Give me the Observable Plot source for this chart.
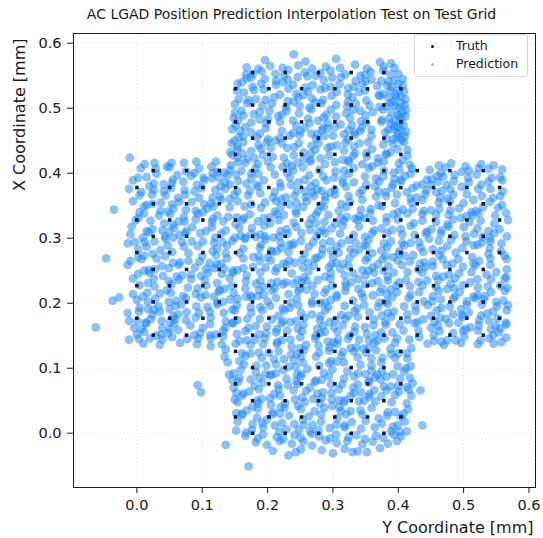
<!DOCTYPE html>
<html><head><meta charset="utf-8">
<script src="https://cdn.jsdelivr.net/npm/d3@7"></script>
<script src="https://cdn.jsdelivr.net/npm/@observablehq/plot@0.6"></script>
<style>
html,body{margin:0;padding:0;background:#fff;}
#wrap{position:relative;width:543px;height:538px;font-family:"DejaVu Sans",sans-serif;}
.legend{position:absolute;left:414px;top:34px;width:114px;height:43px;box-sizing:border-box;border:1px solid #d6d6d6;border-radius:3px;background:rgba(255,255,255,0.85);font-size:12.5px;color:#1a1a1a;}
.legend .row{position:absolute;left:0;width:100%;height:16px;line-height:16px;}
.legend .mk{position:absolute;left:16px;top:6.5px;width:3px;height:3px;border-radius:1.5px;}
.legend .lbl{position:absolute;left:41px;top:0;white-space:nowrap;}
</style></head>
<body><div id="wrap"></div>
<script>
const title = "AC LGAD Position Prediction Interpolation Test on Test Grid";
const xLabel = "Y Coordinate [mm]";
const yLabel = "X Coordinate [mm]";
const seriesNames = ["Truth", "Prediction"];
const seriesColors = ["#0b1a3f", "#1e88f5"];
const xTicks = [0.0, 0.1, 0.2, 0.3, 0.4, 0.5, 0.6];
const yTicks = [0.0, 0.1, 0.2, 0.3, 0.4, 0.5, 0.6];

// Truth grid: X coordinate of each row and the Y coordinates of the points in that row
const truthRowX = [0.000,0.025,0.050,0.076,0.101,0.126,0.151,0.177,0.202,0.227,0.252,0.278,0.303,0.328,0.353,0.378,0.404,0.429,0.454,0.479,0.505,0.530,0.555];
const truthRowY = [
  [0.177,0.227,0.278,0.328,0.378],
  [0.151,0.202,0.252,0.303,0.353,0.404],
  [0.177,0.227,0.278,0.328,0.378],
  [0.151,0.202,0.252,0.303,0.353,0.404],
  [0.177,0.227,0.278,0.328,0.378],
  [0.151,0.202,0.252,0.303,0.353,0.404],
  [0.025,0.076,0.126,0.177,0.227,0.278,0.328,0.378,0.429,0.479,0.530],
  [0.000,0.050,0.101,0.151,0.202,0.252,0.303,0.353,0.404,0.454,0.505,0.555],
  [0.025,0.076,0.126,0.177,0.227,0.278,0.328,0.378,0.429,0.479,0.530],
  [0.000,0.050,0.101,0.151,0.202,0.252,0.303,0.353,0.404,0.454,0.505,0.555],
  [0.025,0.076,0.126,0.177,0.227,0.278,0.328,0.378,0.429,0.479,0.530],
  [0.000,0.050,0.101,0.151,0.202,0.252,0.303,0.353,0.404,0.454,0.505,0.555],
  [0.025,0.076,0.126,0.177,0.227,0.278,0.328,0.378,0.429,0.479,0.530],
  [0.000,0.050,0.101,0.151,0.202,0.252,0.303,0.353,0.404,0.454,0.505,0.555],
  [0.025,0.076,0.126,0.177,0.227,0.278,0.328,0.378,0.429,0.479,0.530],
  [0.000,0.050,0.101,0.151,0.202,0.252,0.303,0.353,0.404,0.454,0.505,0.555],
  [0.025,0.076,0.126,0.177,0.227,0.278,0.328,0.378,0.429,0.479,0.530],
  [0.151,0.202,0.252,0.303,0.353,0.404],
  [0.177,0.227,0.278,0.328,0.378],
  [0.151,0.202,0.252,0.303,0.353,0.404],
  [0.177,0.227,0.278,0.328,0.378],
  [0.151,0.202,0.252,0.303,0.353,0.404],
  [0.177,0.227,0.278,0.328,0.378]
];

// Predicted positions, "Y,X" in micrometres (thousandths of a mm)
const predictionPairs = `
208,-27 243,-29 251,-25 300,-31 318,-24 338,-28 352,-29 372,-23 171,-51 136,-18 232,-34 330,-29 283,-26
182,-14 199,-18 219,-12 237,-16 255,-13 268,-19 289,-11 306,-15 322,-12 345,-17 361,-13 384,-16 398,-12
166,-4 185,-8 193,-2 214,-6 224,-9 241,-3 251,-7 268,-1 279,-5 296,-8 305,-2 324,-6 336,-3 349,-9 366,-4 377,-7 393,-2 404,-5
152,4 167,1 176,5 193,9 218,2 229,6 248,5 265,3 278,5 295,8 318,9 343,7 364,9 389,3 402,2 413,3
154,18 177,14 192,16 211,12 222,16 241,14 256,13 269,13 282,18 305,13 318,12 329,17 350,19 375,15 392,10 399,12 410,18
161,28 184,24 199,21 208,29 233,27 254,21 263,26 282,29 307,23 320,29 345,29 370,23 383,27 404,25
152,31 161,30 168,35 185,38 208,32 219,30 226,39 251,37 272,34 287,39 312,34 327,34 342,35 359,39 384,32 395,33 408,30 415,37
154,48 177,41 186,46 205,44 220,40 227,46 246,42 257,48 280,46 299,42 310,40 317,48 340,49 365,49 390,48 413,46
150,52 161,58 184,50 191,53 204,54 219,58 242,52 253,55 270,53 283,54 298,52 309,51 318,51 327,57 348,50 355,56 374,57 395,59 420,58
152,62 163,61 172,64 187,68 210,60 217,68 240,66 259,65 276,61 285,63 298,62 309,68 332,62 343,63 356,60 363,66 382,66 401,64 416,67
148,70 155,79 180,73 193,78 216,74 231,74 246,76 265,70 272,79 297,75 314,75 331,70 338,75 355,78 378,72 389,72 400,73 413,71 422,77
146,82 157,85 174,83 187,85 204,89 229,84 244,80 251,88 274,81 283,82 294,88 317,84 332,88 355,81 364,86 373,83 382,87 403,84 418,85
141,90 148,92 159,98 182,94 197,91 206,90 213,92 224,97 245,90 252,91 261,99 286,93 299,98 322,95 339,92 350,91 359,96 368,90 375,95 392,91 409,95
139,109 164,106 183,104 198,104 213,106 232,102 243,102 254,109 279,104 294,108 317,109 342,105 359,104 374,109 399,103 412,100 419,103
134,118 157,111 166,119 191,116 210,114 225,114 240,112 251,118 274,118 297,111 306,110 313,119 338,117 359,115 376,116 395,116 414,115
136,129 161,123 174,123 187,124 202,124 217,126 236,121 245,122 256,128 279,124 294,127 315,125 332,126 351,124 366,128 389,122 400,123 413,123
130,137 151,138 174,136 193,137 214,138 237,133 250,131 259,136 278,135 295,132 306,137 327,131 336,132 347,130 354,131 363,139 388,130 395,139 420,131 10,138 35,136 66,139 92,137 113,134 445,138 470,136 496,139 522,137 546,138
-63,163 -37,204 -27,209 -35,344 -47,269 93,74 98,63 434,66 437,12
-12,144 3,145 20,146 39,144 54,148 77,145 94,146 113,146 132,149 157,142 168,143 181,144 196,146 215,140 222,143 235,144 250,148 273,146 292,141 301,140 308,144 323,145 340,144 355,143 368,142 379,146 398,146 417,144 432,148 455,142 466,141 475,143 488,143 501,149 526,143 539,146 558,140 565,147
0,152 11,156 30,150 37,152 48,154 63,159 88,151 97,154 112,151 121,152 132,157 153,153 166,157 187,152 198,154 213,155 230,158 253,157 274,150 281,154 288,156 307,156 326,150 333,156 352,153 365,151 374,155 391,155 408,158 431,158 454,151 463,157 484,154 499,158 522,158 545,151 554,155
-4,162 7,160 14,169 39,162 50,160 57,169 82,166 101,162 112,168 135,162 146,169 171,162 182,165 199,164 214,160 221,169 246,161 255,167 276,161 285,165 302,163 315,166 334,164 349,163 362,166 381,167 402,168 425,169 450,162 461,165 478,169 503,160 510,163 523,166 542,160 549,165 556,161 565,167
-12,173 1,173 14,170 21,175 38,173 51,170 58,175 75,174 90,178 113,178 136,172 147,170 154,174 169,176 188,176 207,175 224,172 235,171 244,173 257,178 280,174 295,171 304,174 319,176 338,179 363,175 380,171 389,179 414,174 429,171 438,175 455,171 464,177 473,176 492,170 499,179 524,174 539,173 552,177 565,170
-14,185 3,187 24,182 35,187 56,180 63,183 76,186 95,185 112,187 133,185 150,189 175,185 192,189 217,181 226,189 251,185 268,183 281,180 288,189 313,182 324,181 333,188 356,186 375,181 384,185 393,187 414,183 427,188 450,181 459,189 484,183 497,182 508,186 527,181 536,184 545,187 566,189
4,193 17,191 26,190 33,195 50,191 59,196 68,198 91,195 108,194 123,198 146,190 153,197 174,194 189,194 204,196 223,192 234,193 247,197 268,199 293,194 318,196 337,192 348,197 369,194 384,199 409,195 426,196 445,197 466,193 479,195 496,191 505,198 528,198 551,195 568,197
0,205 17,202 28,207 49,202 60,204 75,208 98,209 123,201 132,202 143,206 154,207 175,209 200,203 213,208 236,201 245,208 268,203 281,200 288,201 297,205 306,209 331,204 346,209 371,201 380,202 391,209 416,208 439,203 452,203 465,206 484,207 505,203 518,208 531,206 550,202 561,204
-6,214 9,210 16,216 35,215 52,216 71,211 90,214 105,213 118,210 125,218 148,216 167,210 174,212 185,211 194,213 207,219 232,214 247,219 272,214 287,216 306,213 319,219 344,215 361,212 372,217 383,214 398,217 419,213 432,217 453,211 462,219 487,210 494,217 515,210 522,212 533,211 542,217 563,219
4,228 27,226 46,220 53,229 78,224 93,223 106,227 127,220 134,222 145,227 166,223 187,220 194,225 211,223 224,229 249,222 260,221 269,227 290,221 299,227 320,226 339,222 350,229 375,223 388,221 397,227 418,226 437,227 458,225 475,222 486,223 499,228 522,224 537,226 556,227 567,224
-6,238 17,231 26,238 49,234 64,236 83,237 104,236 123,231 142,239 167,234 182,230 189,235 206,231 215,233 228,232 239,230 246,236 253,233 260,235 277,236 296,238 319,231 328,232 339,237 360,231 369,234 384,235 401,232 412,236 431,233 444,235 461,236 480,230 487,238 510,232 521,237 542,237 563,238
2,245 19,247 40,242 61,241 70,243 83,244 98,242 109,247 130,245 147,247 168,243 189,248 212,249 237,246 256,240 263,249 288,241 297,247 318,243 331,246 350,243 363,247 384,241 393,247 414,248 437,247 458,242 469,241 478,244 493,246 512,248 535,244 550,248 565,240
-14,259 11,250 18,251 27,252 38,257 49,254 64,259 89,255 106,253 119,254 134,253 147,250 154,251 163,254 178,256 197,255 214,254 229,259 254,255 271,258 294,255 311,253 324,257 345,251 354,250 361,255 378,250 385,257 406,259 431,252 442,256 453,257 474,259 499,256 518,258 541,259 566,252
-10,265 7,268 30,269 55,262 66,263 79,265 96,264 111,262 122,260 129,261 138,269 163,269 188,265 205,266 224,261 233,266 242,262 253,267 262,262 273,269 298,260 305,262 316,261 325,269 350,266 369,260 376,268 399,266 418,264 433,260 440,263 453,264 468,268 483,261 492,268 515,261 524,265 541,269 566,268
2,271 11,273 24,276 43,272 54,279 79,277 100,272 121,274 136,277 157,277 178,271 187,273 200,270 207,279 232,279 257,276 276,270 283,275 300,271 309,278 332,277 353,270 360,277 381,272 392,271 401,276 410,273 423,274 438,279 463,274 488,278 513,271 538,276 563,273
2,283 15,287 36,282 47,289 72,287 93,288 116,280 123,284 138,289 163,284 188,285 205,281 214,280 221,285 238,289 263,287 284,283 297,281 306,287 327,283 340,282 351,288 374,281 383,286 402,280 409,289 434,286 453,283 466,281 475,288 498,285 515,289 540,285 557,280
-14,292 -3,294 12,294 27,295 44,299 69,294 84,295 101,295 118,293 131,294 146,296 165,299 190,290 197,298 220,293 233,290 240,292 251,296 270,294 285,292 296,295 313,292 324,297 335,293 348,290 355,298 378,292 389,295 406,293 419,293 432,294 447,299 462,296 481,298 504,295 521,290 528,293 541,295 558,292
-10,306 9,301 18,309 43,303 56,301 65,305 74,308 97,308 120,301 129,307 150,301 159,304 166,301 175,307 182,302 189,306 196,303 209,301 218,303 231,307 252,308 275,303 288,308 311,307 332,305 349,302 360,308 383,308 406,306 425,305 442,308 465,307 486,305 503,303 516,307 529,302 540,300 547,308 566,303
-8,318 15,311 24,314 39,312 50,310 57,316 76,311 85,317 106,311 115,317 136,312 157,316 176,316 195,319 220,311 229,314 244,317 265,313 278,310 285,313 298,315 315,319 340,318 363,312 374,315 391,313 404,314 419,319 444,310 451,314 466,312 477,318 500,317 521,315 538,311 555,314
-2,328 21,327 42,323 55,321 64,326 73,325 90,329 115,325 132,326 151,322 162,328 185,326 204,323 217,328 240,324 263,322 274,323 287,325 304,323 317,327 338,328 361,327 382,325 399,329 424,323 437,327 458,325 475,321 484,329 509,325 526,327 547,322 568,328
2,331 11,338 34,335 51,337 72,333 93,338 116,330 123,335 140,333 153,332 164,331 173,337 194,331 203,332 214,337 225,336 244,338 267,330 274,336 293,336 312,331 321,333 334,330 341,334 348,331 357,339 382,332 393,337 414,338 437,337 458,336 477,336 496,331 505,334 514,335 523,339 548,335 565,339
4,340 11,349 36,342 47,341 56,346 75,344 90,342 101,340 108,346 117,349 142,348 165,349 190,347 211,341 220,348 243,342 254,348 277,341 286,348 309,342 320,348 343,344 358,345 375,349 400,340 407,344 422,345 439,342 450,343 463,345 480,343 493,346 512,340 519,342 530,348 553,347
-6,357 15,351 24,353 37,355 54,352 65,356 84,356 103,352 114,354 129,359 154,357 175,352 196,355 213,357 234,352 245,354 260,357 281,350 288,359 313,353 326,356 345,359 370,351 395,354 420,355 437,359 462,355 479,357 500,354 515,359 540,356 559,351
4,366 23,367 44,366 63,362 74,367 95,362 116,362 127,364 142,360 149,367 170,366 189,369 208,363 221,360 228,363 241,365 258,363 271,365 288,364 303,367 324,365 341,369 366,364 381,365 398,367 419,361 428,363 441,368 464,362 475,361 484,367 505,368 528,365 545,362 556,365
-12,376 7,371 26,374 41,372 52,377 73,374 88,372 99,377 120,374 135,376 154,372 173,373 186,379 211,371 220,379 245,373 258,372 269,370 276,375 283,373 296,370 303,375 320,379 345,374 370,372 381,371 390,378 413,371 422,377 443,374 458,371 467,373 480,375 497,379 522,376 541,376 560,372
-6,389 19,380 26,384 41,383 54,385 71,387 92,382 103,389 128,380 135,386 142,383 155,388 168,384 183,382 194,389 219,385 236,382 247,386 266,380 273,385 290,389 315,385 332,386 351,383 364,380 371,387 392,383 405,388 428,381 437,383 450,382 461,387 474,382 485,388 508,386 527,382 538,387 559,389
2,393 15,394 30,399 55,390 62,397 83,396 102,393 115,392 126,393 139,397 152,398 175,392 186,399 211,398 234,393 257,390 264,397 285,395 302,393 315,391 324,399 349,395 366,392 377,395 394,391 403,390 410,396 419,399 444,390 451,391 460,396 469,395 486,397 507,393 520,398 543,393 556,394
6,408 29,407 50,409 75,403 88,400 95,407 116,400 123,402 134,401 143,405 160,404 175,400 182,408 205,409 230,401 239,404 254,409 279,405 304,403 317,404 332,408 355,408 378,404 393,401 402,406 421,407 448,405 465,400 472,409 497,402 508,404 523,408 538,407 559,406
12,414 27,416 46,410 53,416 72,416 91,418 114,410 121,418 144,412 155,417 166,416 185,414 200,418 223,410 230,415 237,411 246,416 265,418 288,414 303,417 324,417 345,414 360,411 369,416 378,418 401,415 418,413 462,412 481,415 503,411 527,414 546,412
154,424 169,422 180,423 193,428 208,425 225,424 240,428 255,422 266,421 281,423 294,427 315,421 324,420 331,427 352,425 369,423 382,429 407,420 414,427 146,428 -11,424
154,437 175,434 190,438 205,439 230,439 255,432 266,430 273,436 292,439 317,435 334,431 351,431 360,437 381,430 388,432 399,437 414,436 143,432 162,430
154,441 163,448 186,443 199,448 222,446 241,440 248,446 267,442 278,446 297,441 306,443 319,447 332,441 341,446 354,448 377,444 392,445 409,448 145,446
149,450 156,455 163,457 184,455 201,452 212,450 219,454 234,458 249,459 274,453 287,457 300,458 323,452 334,459 359,458 382,453 405,450 392,452 398,456 403,454 410,457
158,465 175,463 188,461 197,469 222,465 239,462 250,465 267,461 276,460 283,466 292,469 317,460 324,466 333,463 342,465 359,467 380,463 393,468 412,464 385,467 399,462 404,466 146,468
151,474 166,471 175,478 198,477 219,479 244,473 257,470 264,477 285,470 292,477 303,471 312,475 329,474 344,470 351,478 374,479 399,471 408,474 388,476 394,473 403,478
163,489 188,483 201,484 216,488 239,481 262,484 277,481 286,486 305,487 326,485 343,480 350,489 375,482 386,484 401,488 411,487 148,485 155,481 394,481 405,486
160,496 179,491 188,494 203,496 222,490 229,496 248,492 267,498 290,490 297,498 320,492 331,497 342,496 361,494 376,498 399,490 406,495 150,493 389,494 412,497
150,506 169,508 192,504 207,507 228,502 249,504 264,501 273,509 282,508 305,505 322,503 335,507 356,504 371,502 382,503 395,504 410,505 388,508 401,501 404,507
156,514 171,512 182,514 197,513 210,517 231,511 240,510 247,517 268,515 285,513 298,519 323,510 330,517 351,512 372,519 397,517 411,514 385,516 392,511 404,518
164,524 179,528 194,529 219,521 244,522 255,520 262,526 281,529 306,525 323,521 340,525 349,527 370,520 377,522 388,527 409,526 153,527 396,521 401,528
154,538 177,533 190,538 213,536 232,530 239,536 258,532 269,536 288,531 297,533 310,537 323,531 332,533 345,538 368,534 383,535 400,538 390,532 407,535
161,540 168,546 175,547 196,545 213,542 224,540 231,544 246,548 261,549 286,543 299,547 312,548 335,542 350,541 359,544 374,542 385,541 394,543 407,545
167,552 178,553 191,557 212,553 225,550 232,559 257,555 274,550 281,554 296,558 319,552 342,550 349,551 358,556 377,558 400,553 388,552
168,563 186,561 204,565 223,562 247,566 268,561 289,564 311,562 334,567 352,561 378,564 394,562
196,574 258,572 305,576 372,571 240,583 389,569
`;

const truth = truthRowX.flatMap((xc, i) => truthRowY[i].map(yc => ({yc, xc})));
const predictions = predictionPairs.trim().split(/\s+/).map(s => {
  const [a, b] = s.split(",");
  return {yc: +a / 1000, xc: +b / 1000};
});

const fmt = d3.format(".1f");
const chart = Plot.plot({
  width: 543,
  height: 538,
  marginTop: 33,
  marginRight: 8,
  marginBottom: 51,
  marginLeft: 73,
  style: {fontFamily: '"DejaVu Sans", sans-serif', fontSize: "14.5px", color: "#1a1a1a", background: "#fff"},
  x: {domain: [-0.097, 0.610], ticks: xTicks, tickFormat: fmt, tickSize: 6, tickPadding: 6, label: null},
  y: {domain: [-0.0835, 0.615], ticks: yTicks, tickFormat: fmt, tickSize: 6, tickPadding: 6, label: null},
  marks: [
    Plot.gridX(xTicks, {stroke: "#bcbcbc", strokeOpacity: 0.6, strokeDasharray: "1.2,2.4", strokeWidth: 0.8}),
    Plot.gridY(yTicks, {stroke: "#bcbcbc", strokeOpacity: 0.6, strokeDasharray: "1.2,2.4", strokeWidth: 0.8}),
    Plot.dot(predictions, {x: "yc", y: "xc", r: 4.4, fill: seriesColors[1], fillOpacity: 0.52, clip: true}),
    Plot.dot(truth, {x: "yc", y: "xc", symbol: "square", r: 2, fill: seriesColors[0], clip: true}),
    Plot.frame({stroke: "#1a1a1a", strokeWidth: 1}),
    Plot.text([title], {text: d => d, frameAnchor: "top", dx: -13, dy: -19, fontSize: 14, lineAnchor: "middle"}),
    Plot.text([xLabel], {text: d => d, frameAnchor: "bottom-right", textAnchor: "end", dx: -2, dy: 40, fontSize: 16, lineAnchor: "middle"}),
    Plot.text([yLabel], {text: d => d, frameAnchor: "top-left", rotate: -90, textAnchor: "end", dx: -54, dy: 5, fontSize: 16, lineAnchor: "middle"})
  ]
});

const wrap = document.getElementById("wrap");
wrap.appendChild(chart);

const legend = document.createElement("div");
legend.className = "legend";
seriesNames.forEach((name, i) => {
  const row = document.createElement("div");
  row.className = "row";
  row.style.top = (3 + i * 18.3) + "px";
  const mk = document.createElement("span");
  mk.className = "mk";
  mk.style.background = seriesColors[i];
  if (i === 1) mk.style.opacity = 0.5;
  const lbl = document.createElement("span");
  lbl.className = "lbl";
  lbl.textContent = name;
  row.append(mk, lbl);
  legend.appendChild(row);
});
wrap.appendChild(legend);
</script>
</body></html>
